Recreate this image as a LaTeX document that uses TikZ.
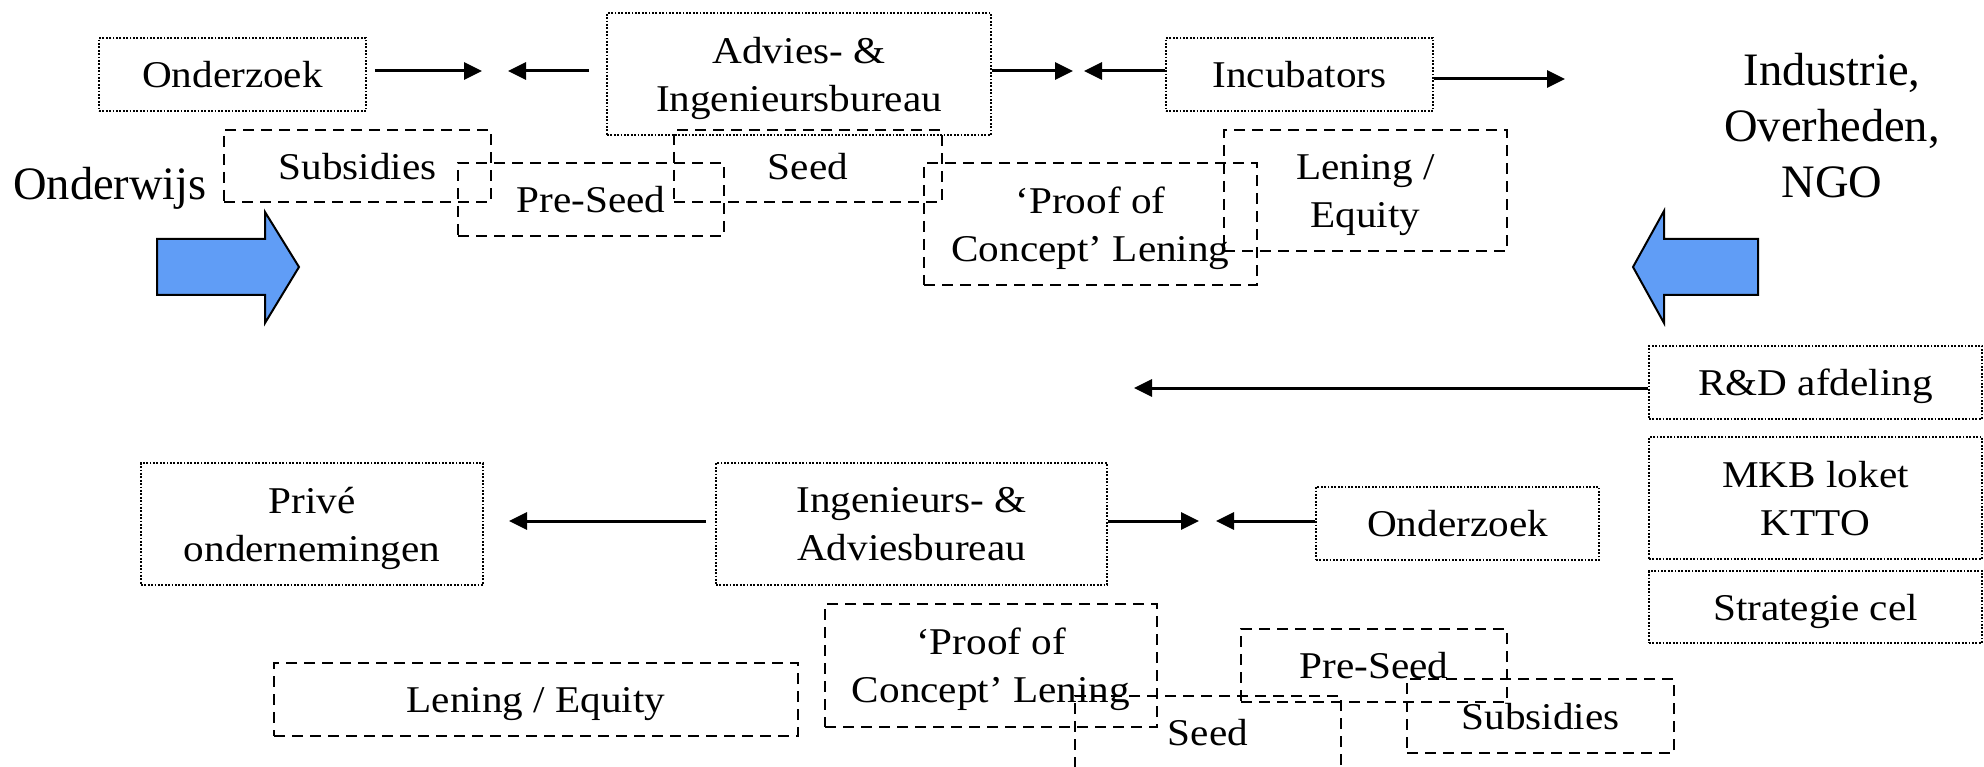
\documentclass[tikz,border=0pt]{standalone}
\usepackage{fontspec}
\setmainfont{Liberation Serif}
\newfontfamily\boxfont[FakeStretch=1.09]{Liberation Serif}
\usetikzlibrary{arrows.meta,calc}
\definecolor{flowblue}{RGB}{96,157,246}
\tikzset{
  box/.style={rectangle, inner sep=0pt, align=center, text depth=0pt,
    font=\boxfont\fontsize{37.8}{48}\selectfont},
  dotbox/.style={box, draw, line width=1.8pt, dash pattern=on 1.8pt off 1.6pt},
  dashbox/.style={box, draw, line width=2.6pt, dash pattern=on 11pt off 7pt},
  flow/.style={line width=3pt, -{Triangle[length=18pt,width=17pt]}},
  bigarrow/.style={draw=black, line width=2pt, fill=flowblue, line join=miter},
  big/.style={inner sep=0pt, align=center, text depth=0pt,
    font=\fontsize{46.5}{56}\selectfont},
}
\begin{document}
\begin{tikzpicture}[x=1pt,y=-1pt]
\useasboundingbox (0,0) rectangle (1984,767);
\clip (0,0) rectangle (1984,767);

% side labels
\node[big, anchor=base west] (onw) at (13,200) {Onderwijs};
\node[big] (ind) at (1832,125.6) {Industrie,\\Overheden,\\NGO};

% broad flow arrows
\draw[bigarrow] (157,239) -- (265,239) -- (265,212) -- (299,267) -- (265,323)
  -- (265,295) -- (157,295) -- cycle;
\draw[bigarrow] (1758,239) -- (1664,239) -- (1664,211) -- (1633,267) -- (1664,323)
  -- (1664,295) -- (1758,295) -- cycle;

% upper chain: organisations
\node[dotbox, minimum width=267pt, minimum height=73pt] (ond1) at (232.5,74.5) {Onderzoek};
\node[dotbox, minimum width=384pt, minimum height=122pt] (adv) at (799,74) {Advies- \&\\Ingenieursbureau};
\node[dotbox, minimum width=267pt, minimum height=73pt] (inc) at (1299.5,74.5) {Incubators};

% upper chain: financing
\node[dashbox, minimum width=267pt, minimum height=72pt] (sub1) at (357.5,166) {Subsidies};
\node[dashbox, minimum width=266pt, minimum height=73pt] (pre1) at (591,199.5) {Pre-Seed};
\node[dashbox, minimum width=268pt, minimum height=72pt] (seed1) at (808,166) {Seed};
\node[dashbox, minimum width=333pt, minimum height=122pt] (proof1) at (1090.5,224) {‘Proof of\\Concept’ Lening};
\node[dashbox, minimum width=283pt, minimum height=121pt] (len1) at (1365.5,190.5) {Lening /\\Equity};

% right column
\node[dotbox, minimum width=333pt, minimum height=73pt] (rd) at (1815.5,382.5) {R\&D afdeling};
\node[dotbox, minimum width=333pt, minimum height=122pt] (mkb) at (1815.5,498) {MKB loket\\KTTO};
\node[dotbox, minimum width=333pt, minimum height=72pt] (strat) at (1815.5,607) {Strategie cel};

% lower chain: organisations
\node[dotbox, minimum width=342pt, minimum height=122pt] (prive) at (312,524) {Privé\\ondernemingen};
\node[dotbox, minimum width=391pt, minimum height=122pt] (ing) at (911.5,524) {Ingenieurs- \&\\Adviesbureau};
\node[dotbox, minimum width=283pt, minimum height=73pt] (ond2) at (1457.5,523.5) {Onderzoek};

% lower chain: financing
\node[dashbox, minimum width=524pt, minimum height=73pt] (len2) at (536,699.5) {Lening / Equity};
\node[dashbox, minimum width=332pt, minimum height=123pt] (proof2) at (991,665.5) {‘Proof of\\Concept’ Lening};
\node[dashbox, minimum width=266pt, minimum height=73pt] (seed2) at (1208,732.5) {Seed};
\node[dashbox, minimum width=266pt, minimum height=73pt] (pre2) at (1374,665.5) {Pre-Seed};
\node[dashbox, minimum width=267pt, minimum height=74pt] (sub2) at (1540.5,716) {Subsidies};

% arrow meeting points
\coordinate (m1) at (482,71);
\coordinate (m2) at (508,71);
\coordinate (m3) at (1073,71);
\coordinate (m4) at (1084,71);
\coordinate (m5) at (1565,79);
\coordinate (m6) at (1134,388);
\coordinate (m7) at (509,521);
\coordinate (m8) at (1199,521);
\coordinate (m9) at (1216,521);

% connectors
\draw[flow] ($(ond1.east |- m1)+(8,0)$) -- (m1);
\draw[flow] ($(adv.west |- m2)+(-17,0)$) -- (m2);
\draw[flow] (adv.east |- m3) -- (m3);
\draw[flow] (inc.west |- m4) -- (m4);
\draw[flow] (inc.east |- m5) -- (m5);
\draw[flow] (rd.west |- m6) -- (m6);
\draw[flow] ($(ing.west |- m7)+(-9,0)$) -- (m7);
\draw[flow] (ing.east |- m8) -- (m8);
\draw[flow] (ond2.west |- m9) -- (m9);
\end{tikzpicture}
\end{document}
